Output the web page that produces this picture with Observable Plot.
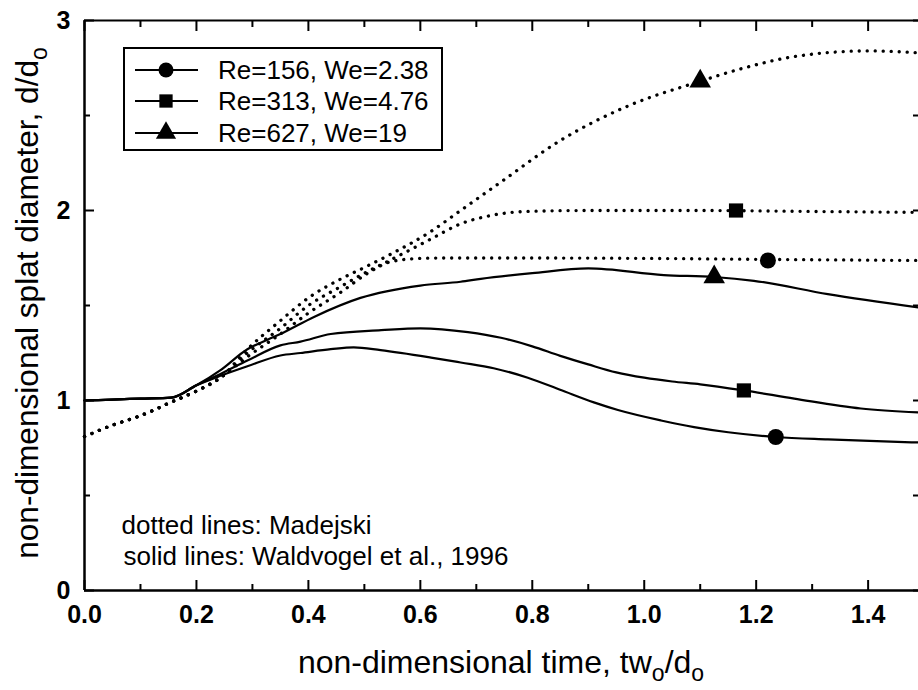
<!DOCTYPE html>
<html>
<head>
<meta charset="utf-8">
<script src="https://cdn.jsdelivr.net/npm/d3@7"></script>
<script src="https://cdn.jsdelivr.net/npm/@observablehq/plot@0.6"></script>
<style>
  html, body { margin: 0; padding: 0; background: #fff; }
  #chart { width: 918px; height: 690px; }
</style>
</head>
<body>
<div id="chart"></div>
<script>
// ---------------- data ----------------
const seriesNames = ["Re=156, We=2.38", "Re=313, We=4.76", "Re=627, We=19"];
const seriesSymbols = ["circle", "square", "triangle"];

// Madejski model (dotted lines)
const madX156 = [0, 0.05, 0.10, 0.154, 0.20, 0.243, 0.291, 0.35, 0.40, 0.458, 0.506, 0.547, 0.60, 0.65, 0.80, 1.00, 1.20, 1.49];
const madY156 = [0.81, 0.87, 0.92, 0.99, 1.05, 1.12, 1.23, 1.35, 1.46, 1.57, 1.67, 1.73, 1.748, 1.75, 1.75, 1.748, 1.743, 1.737];
const madX313 = [0, 0.05, 0.10, 0.154, 0.20, 0.243, 0.291, 0.35, 0.40, 0.458, 0.50, 0.547, 0.619, 0.672, 0.72, 0.79, 0.90, 1.10, 1.30, 1.49];
const madY313 = [0.81, 0.87, 0.92, 0.99, 1.05, 1.12, 1.25, 1.38, 1.50, 1.60, 1.67, 1.74, 1.85, 1.93, 1.97, 1.995, 2.0, 2.0, 1.995, 1.99];
const madX627 = [0, 0.05, 0.10, 0.154, 0.20, 0.243, 0.291, 0.35, 0.40, 0.458, 0.50, 0.547, 0.619, 0.672, 0.744, 0.851, 0.971, 1.10, 1.178, 1.268, 1.40, 1.49];
const madY627 = [0.81, 0.87, 0.92, 0.99, 1.05, 1.12, 1.27, 1.42, 1.54, 1.64, 1.70, 1.77, 1.89, 2.00, 2.15, 2.37, 2.55, 2.68, 2.75, 2.81, 2.84, 2.83];

// Waldvogel et al., 1996 (solid lines)
const walX156 = [0, 0.05, 0.10, 0.155, 0.20, 0.243, 0.291, 0.35, 0.386, 0.44, 0.481, 0.529, 0.619, 0.672, 0.731, 0.792, 0.851, 0.91, 0.953, 1.03, 1.089, 1.15, 1.235, 1.328, 1.49];
const walY156 = [1.0, 1.005, 1.01, 1.015, 1.08, 1.13, 1.18, 1.237, 1.25, 1.27, 1.28, 1.265, 1.226, 1.20, 1.17, 1.12, 1.055, 0.99, 0.95, 0.895, 0.86, 0.833, 0.808, 0.795, 0.779];
const walX313 = [0, 0.05, 0.10, 0.155, 0.20, 0.243, 0.291, 0.35, 0.386, 0.44, 0.53, 0.60, 0.685, 0.744, 0.80, 0.85, 0.90, 0.95, 1.0, 1.05, 1.10, 1.178, 1.268, 1.387, 1.49];
const walY313 = [1.0, 1.005, 1.01, 1.015, 1.08, 1.14, 1.21, 1.29, 1.31, 1.35, 1.37, 1.38, 1.36, 1.33, 1.285, 1.235, 1.19, 1.148, 1.12, 1.10, 1.085, 1.053, 1.01, 0.958, 0.937];
const walX627 = [0, 0.05, 0.10, 0.155, 0.20, 0.243, 0.291, 0.327, 0.35, 0.41, 0.493, 0.60, 0.672, 0.708, 0.80, 0.90, 1.035, 1.125, 1.196, 1.328, 1.49];
const walY627 = [1.0, 1.005, 1.01, 1.015, 1.08, 1.16, 1.27, 1.32, 1.35, 1.44, 1.54, 1.605, 1.625, 1.64, 1.67, 1.695, 1.66, 1.65, 1.63, 1.56, 1.49];

// marker positions on each curve
const walMarkX = [1.235, 1.178, 1.125];
const walMarkY = [0.808, 1.053, 1.65];
const madMarkX = [1.221, 1.164, 1.10];
const madMarkY = [1.737, 2.0, 2.68];

// ticks
const xMajorTicks = [0, 0.2, 0.4, 0.6, 0.8, 1.0, 1.2, 1.4];
const xMinorTicks = [0.1, 0.3, 0.5, 0.7, 0.9, 1.1, 1.3];
const yMajorTicks = [0, 1, 2, 3];
const yMinorTicks = [0.5, 1.5, 2.5];

const xLabelMain = "non-dimensional time, tw";
const yLabelMain = "non-dimensional splat diameter, d/d";
const subO = "o";
const noteDotted = "dotted lines: Madejski";
const noteSolid = "solid lines: Waldvogel et al., 1996";

// ---------------- build rows ----------------
function rows(xs, ys, name) { return xs.map((x, i) => ({x, y: ys[i], series: name})); }
const madRows = [
  ...rows(madX156, madY156, seriesNames[0]),
  ...rows(madX313, madY313, seriesNames[1]),
  ...rows(madX627, madY627, seriesNames[2])
];
const walRows = [
  ...rows(walX156, walY156, seriesNames[0]),
  ...rows(walX313, walY313, seriesNames[1]),
  ...rows(walX627, walY627, seriesNames[2])
];
const markRows = [
  ...walMarkX.map((x, i) => ({x, y: walMarkY[i], series: seriesNames[i]})),
  ...madMarkX.map((x, i) => ({x, y: madMarkY[i], series: seriesNames[i]}))
];

const FONT = "'Liberation Sans', Arial, Helvetica, sans-serif";

const plot = Plot.plot({
  width: 918,
  height: 690,
  marginLeft: 84,
  marginRight: 0,
  marginTop: 20,
  marginBottom: 100,
  x: {domain: [0, 1.49]},
  y: {domain: [0, 3]},
  symbol: {domain: seriesNames, range: seriesSymbols},
  style: {fontFamily: FONT, fontSize: "24px", color: "black", background: "white", overflow: "visible"},
  marks: [
    // frame
    Plot.ruleY([0], {stroke: "black", strokeWidth: 2.5}),
    Plot.ruleY([3], {stroke: "black", strokeWidth: 2}),
    Plot.ruleX([0], {stroke: "black", strokeWidth: 2.5}),
    // inward ticks
    Plot.axisX(xMajorTicks, {anchor: "bottom", tickSize: -10, strokeWidth: 2, fill: "none", label: null}),
    Plot.axisX(xMinorTicks, {anchor: "bottom", tickSize: -6, strokeWidth: 2, fill: "none", label: null}),
    Plot.axisX(xMajorTicks, {anchor: "top", tickSize: -10, strokeWidth: 2, fill: "none", label: null}),
    Plot.axisX(xMinorTicks, {anchor: "top", tickSize: -6, strokeWidth: 2, fill: "none", label: null}),
    Plot.axisY(yMajorTicks, {anchor: "left", tickSize: -10, strokeWidth: 2, fill: "none", label: null}),
    Plot.axisY(yMinorTicks, {anchor: "left", tickSize: -6, strokeWidth: 2, fill: "none", label: null}),
    Plot.axisY([...yMajorTicks, ...yMinorTicks], {anchor: "right", tickSize: -6, strokeWidth: 2, fill: "none", label: null}),
    // tick labels
    Plot.axisX(xMajorTicks, {anchor: "bottom", tickSize: 0, tickPadding: 15, tickFormat: d3.format(".1f"), fontSize: 25, fontWeight: "bold", label: null}),
    Plot.axisY(yMajorTicks, {anchor: "left", tickSize: 0, tickPadding: 14, tickFormat: d3.format("d"), fontSize: 25, fontWeight: "bold", label: null}),
    // curves
    Plot.line(madRows, {x: "x", y: "y", z: "series", curve: "monotone-x", stroke: "black", strokeWidth: 3.3, strokeDasharray: "0.1,7.9", strokeLinecap: "round"}),
    Plot.line(walRows, {x: "x", y: "y", z: "series", curve: "monotone-x", stroke: "black", strokeWidth: 2.2}),
    Plot.dot(markRows, {x: "x", y: "y", symbol: "series", r: 8, fill: "black", stroke: "none"}),
    // notes
    Plot.text([noteDotted], {frameAnchor: "bottom-left", text: d => d, dx: 37, dy: -65, textAnchor: "start", lineAnchor: "middle", fontSize: 26}),
    Plot.text([noteSolid], {frameAnchor: "bottom-left", text: d => d, dx: 39, dy: -34, textAnchor: "start", lineAnchor: "middle", fontSize: 26})
  ]
});

document.getElementById("chart").appendChild(plot);

// ---------------- axis titles with subscripts & legend ----------------
const svg = d3.select(plot);
const xs = plot.scale("x"), ys = plot.scale("y");
const xMid = (xs.range[0] + xs.range[1]) / 2;
const yMid = (ys.range[0] + ys.range[1]) / 2;

const xl = svg.append("text")
  .attr("x", xMid).attr("y", 673)
  .attr("text-anchor", "middle")
  .style("font-family", FONT).style("font-size", "32px").attr("fill", "black");
xl.append("tspan").text(xLabelMain);
xl.append("tspan").attr("dy", 8).style("font-size", "23px").text(subO);
xl.append("tspan").attr("dy", -8).text("/d");
xl.append("tspan").attr("dy", 8).style("font-size", "23px").text(subO);

const yl = svg.append("text")
  .attr("transform", `translate(38,${yMid - 2}) rotate(-90)`)
  .attr("text-anchor", "middle")
  .style("font-family", FONT).style("font-size", "31.6px").attr("fill", "black");
yl.append("tspan").text(yLabelMain);
yl.append("tspan").attr("dy", 9).style("font-size", "23px").text(subO);

// legend
const lg = svg.append("g").attr("transform", "translate(124,48)");
lg.append("rect").attr("x", 0).attr("y", 0).attr("width", 318).attr("height", 102)
  .attr("fill", "white").attr("stroke", "black").attr("stroke-width", 2);
const symTypes = {circle: d3.symbolCircle, square: d3.symbolSquare, triangle: d3.symbolTriangle};
const rowY = [22, 53, 85];
seriesNames.forEach((name, i) => {
  const g = lg.append("g").attr("transform", `translate(0,${rowY[i]})`);
  g.append("line").attr("x1", 11).attr("x2", 74).attr("y1", 0).attr("y2", 0)
    .attr("stroke", "black").attr("stroke-width", 2);
  g.append("path").attr("transform", "translate(42,0)")
    .attr("d", d3.symbol().type(symTypes[seriesSymbols[i]]).size(Math.PI * 7.5 * 7.5)())
    .attr("fill", "black");
  g.append("text").attr("x", 94).attr("y", 9)
    .attr("text-anchor", "start")
    .style("font-family", FONT).style("font-size", "26px").attr("fill", "black")
    .text(name);
});
</script>
</body>
</html>
